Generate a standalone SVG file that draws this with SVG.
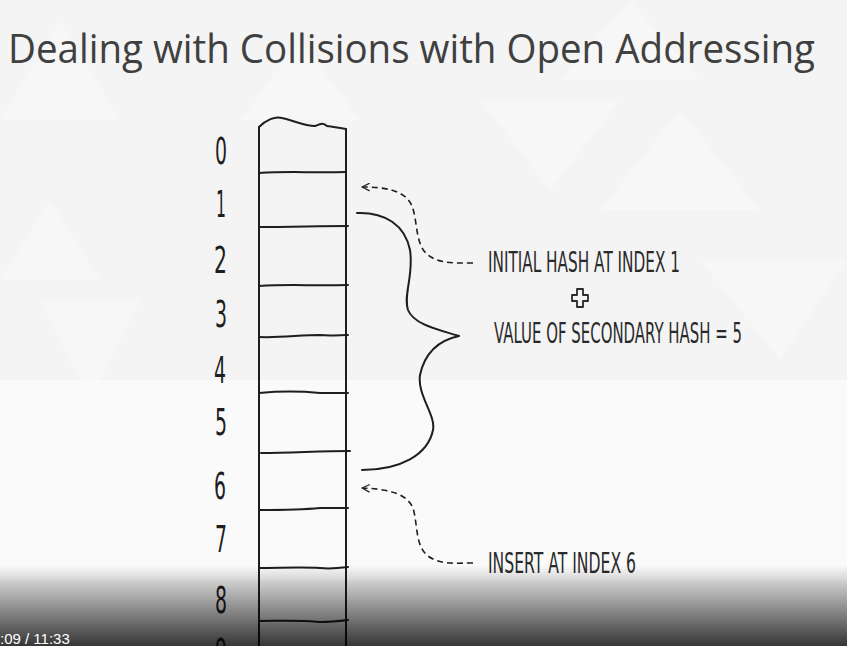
<svg xmlns="http://www.w3.org/2000/svg" width="847" height="646" viewBox="0 0 847 646">
  <defs>
    <linearGradient id="shade" x1="0" y1="0" x2="0" y2="1">
      <stop offset="0" stop-color="#000" stop-opacity="0"/>
      <stop offset="1" stop-color="#000" stop-opacity="0.78"/>
    </linearGradient>
    <marker id="arr" viewBox="0 0 10 10" refX="9" refY="5" markerWidth="9" markerHeight="9" orient="auto" markerUnits="userSpaceOnUse">
      <path d="M1 1 L9 5 L1 9" fill="none" stroke="#222" stroke-width="1.4" stroke-linecap="round" stroke-linejoin="round"/>
    </marker>
  </defs>
  <style>
    .ink { fill: none; stroke: #1e1e1e; stroke-width: 2; stroke-linecap: round; stroke-linejoin: round; }
    .dash { fill: none; stroke: #1e1e1e; stroke-width: 1.6; stroke-dasharray: 6 4; }
    .digit { font-family: "DejaVu Sans", sans-serif; font-size: 37px; fill: #1e1e1e; }
    .label { font-family: "DejaVu Sans", sans-serif; font-size: 28px; fill: #2a2a2a; }
  </style>
  <rect width="847" height="646" fill="#f4f4f4"/>
  <g fill="#f7f7f7">
    <polygon points="0,120 120,120 60,20"/>
    <polygon points="240,120 360,120 300,40"/>
    <polygon points="560,80 700,80 630,0"/>
    <polygon points="600,210 760,210 680,110"/>
    <polygon points="0,280 100,280 50,200"/>
    <polygon points="40,300 140,300 90,400"/>
    <polygon points="700,260 847,260 780,360"/>
    <polygon points="480,100 620,100 550,190"/>
  </g>
  <rect x="0" y="380" width="847" height="200" fill="#fafafa"/>
  <text x="8" y="63" font-family="Open Sans, sans-serif" font-size="41" fill="#404040" textLength="807" lengthAdjust="spacingAndGlyphs">Dealing with Collisions with Open Addressing</text>

  <g id="table">
    <path d="M259 127 L259 646 M346 129 L346 646" class="ink"/>
    <path d="M259 127 C266 120 275 116 282 118 C292 120 305 126 315 126 C320 124 323 122 327 126 C334 127 340 128 346 129" class="ink"/>
    <path d="M259 173 C290 171 310 173 346 172" class="ink"/>
    <path d="M259 227 C290 227 320 226 348 226" class="ink"/>
    <path d="M259 286 C290 284 310 286 348 285" class="ink"/>
    <path d="M259 337 C280 338 300 335 320 335 C330 336 340 335 348 335" class="ink"/>
    <path d="M259 393 C280 391 300 391 320 393 C330 393 340 393 348 393" class="ink"/>
    <path d="M261 453 C290 453 320 451 350 451" class="ink"/>
    <path d="M259 510 C280 510 300 510 320 508 C330 508 340 508 348 508" class="ink"/>
    <path d="M259 568 C280 568 300 567 320 568 C330 569 340 568 348 567" class="ink"/>
    <path d="M259 621 C280 621 300 620 320 622 C330 622 340 621 348 620" class="ink"/>
  </g>

  <g id="indices">
    <text class="digit" x="215" y="164" textLength="12" lengthAdjust="spacingAndGlyphs">0</text>
    <text class="digit" x="216" y="217" textLength="10" lengthAdjust="spacingAndGlyphs">1</text>
    <text class="digit" x="214" y="273" textLength="13" lengthAdjust="spacingAndGlyphs">2</text>
    <text class="digit" x="215" y="327" textLength="12" lengthAdjust="spacingAndGlyphs">3</text>
    <text class="digit" x="214" y="383" textLength="12" lengthAdjust="spacingAndGlyphs">4</text>
    <text class="digit" x="215" y="435" textLength="12" lengthAdjust="spacingAndGlyphs">5</text>
    <text class="digit" x="214" y="499" textLength="12" lengthAdjust="spacingAndGlyphs">6</text>
    <text class="digit" x="215" y="552" textLength="12" lengthAdjust="spacingAndGlyphs">7</text>
    <text class="digit" x="215" y="613" textLength="12" lengthAdjust="spacingAndGlyphs">8</text>
    <text class="digit" x="215" y="665" textLength="12" lengthAdjust="spacingAndGlyphs">9</text>
  </g>

  <g id="brace">
    <path d="M357 213 C385 212 405 225 410 250 C414 275 403 295 408 310 C414 325 440 330 459 336 C440 340 425 352 420 375 C417 395 436 415 433 430 C428 455 400 470 362 470" class="ink"/>
  </g>

  <g id="connectors">
    <path d="M473 263 C455 263 440 264 428 255 C415 245 418 222 412 206 C405 190 385 187 362 187" class="dash" marker-end="url(#arr)"/>
    <path d="M473 563 C455 563 440 565 428 556 C415 546 418 525 413 508 C406 492 385 489 362 488" class="dash" marker-end="url(#arr)"/>
  </g>

  <g id="label-initial">
    <text class="label" x="488" y="272" textLength="192" lengthAdjust="spacingAndGlyphs">INITIAL HASH AT INDEX 1</text>
  </g>
  <g id="plus">
    <path d="M577 289 L583 289 L583 295 L588 295 L588 301 L583 301 L583 307 L577 307 L577 301 L572 301 L572 295 L577 295 Z" fill="none" stroke="#2a2a2a" stroke-width="1.8" stroke-linejoin="round"/>
  </g>
  <g id="label-secondary">
    <text class="label" x="494" y="343" textLength="248" lengthAdjust="spacingAndGlyphs">VALUE OF SECONDARY HASH = 5</text>
  </g>
  <g id="label-insert">
    <text class="label" x="488" y="573" textLength="148" lengthAdjust="spacingAndGlyphs">INSERT AT INDEX 6</text>
  </g>

  <rect x="0" y="565" width="847" height="81" fill="url(#shade)"/>
  <text x="0" y="644" font-family="Liberation Sans, sans-serif" font-size="15" fill="#ffffff">:09 / 11:33</text>
</svg>
